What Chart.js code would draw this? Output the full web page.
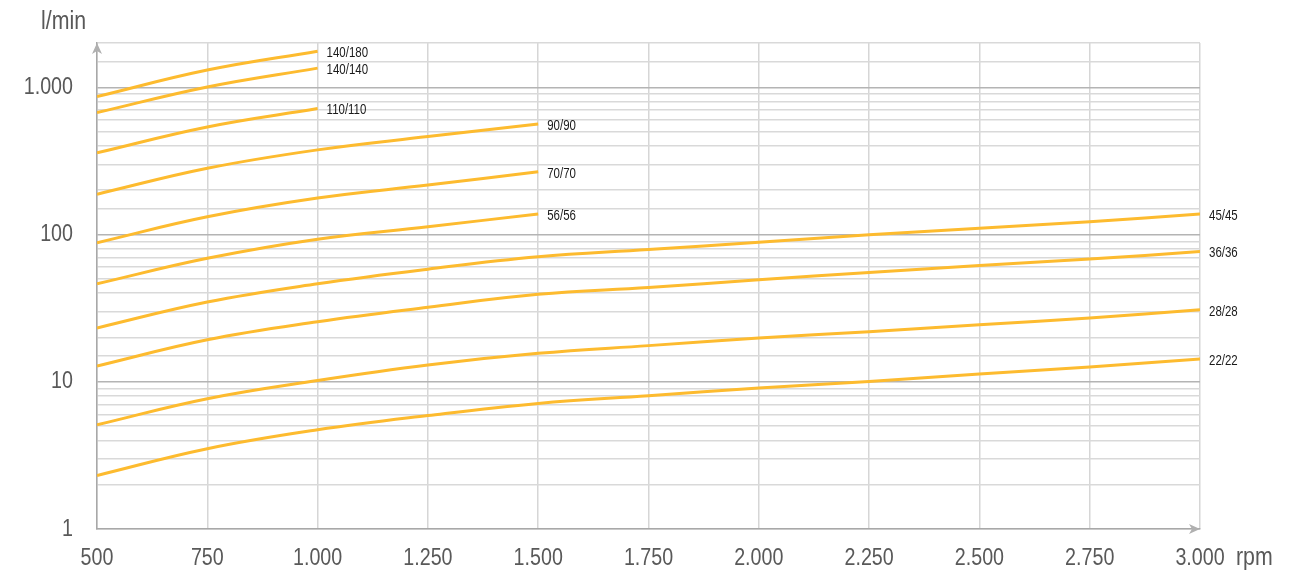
<!DOCTYPE html>
<html lang="de">
<head>
  <meta charset="UTF-8">
  <title>Fördermenge l/min über Drehzahl</title>
  <script src="https://cdn.jsdelivr.net/npm/chart.js"></script>
  <style>
    html, body {
      margin: 0;
      padding: 0;
      background: #fff;
    }
    .container {
      width: 1312px;
      height: 572px;
      position: relative;
    }
  </style>
</head>
<body>
  <div class="container">
    <canvas id="flowChart"></canvas>
  </div>

  <script>
    const rpm = [500, 750, 1000, 1250, 1500, 1750, 2000, 2250, 2500, 2750, 3000];

    // flow in l/min per pump size
    const s140_180 = [865, 1310, 1760];
    const s140_140 = [673, 1005, 1350];
    const s110_110 = [359, 538, 717];
    const s90_90 = [188, 282, 376, 463, 564];
    const s70_70 = [88, 132, 177, 217, 267];
    const s56_56 = [46.3, 69, 93, 113, 138];
    const s45_45 = [23.2, 34.8, 46.3, 58.2, 70.6, 79, 88.8, 99.5, 110.5, 122, 138];
    const s36_36 = [12.8, 19.3, 25.6, 32.1, 39.3, 43.7, 49.3, 55.2, 61.6, 68.1, 76.7];
    const s28_28 = [5.1, 7.67, 10.2, 13.0, 15.6, 17.6, 19.8, 21.9, 24.4, 27.1, 30.8];
    const s22_22 = [2.31, 3.51, 4.72, 5.9, 7.13, 8.04, 9.06, 10.05, 11.3, 12.6, 14.3];

    const seriesNames = ['140/180', '140/140', '110/110', '90/90', '70/70', '56/56', '45/45', '36/36', '28/28', '22/22'];
    const seriesValues = [s140_180, s140_140, s110_110, s90_90, s70_70, s56_56, s45_45, s36_36, s28_28, s22_22];

    const FONT = "'Liberation Sans', Arial, sans-serif";
    const lineColor = '#FDBB2F';
    const NARROW = 0.82; // squeeze regular font to look like a narrow face

    const fmt = v => String(v).replace(/\B(?=(\d{3})+(?!\d))/g, '.');
    const isDecade = v => Math.abs(Math.log10(v) - Math.round(Math.log10(v))) < 1e-9;

    function narrowText(ctx, text, x, y, align) {
      ctx.save();
      ctx.translate(x, y);
      ctx.scale(NARROW, 1);
      ctx.textAlign = align;
      ctx.fillText(text, 0, 0);
      ctx.restore();
    }

    // tick labels, labels at line ends, axis arrows and unit captions
    const extras = {
      id: 'extras',
      afterDatasetsDraw(chart) {
        const ctx = chart.ctx;
        const xs = chart.scales.x, ys = chart.scales.y;
        ctx.save();
        ctx.textBaseline = 'middle';

        ctx.fillStyle = '#595959';
        ctx.font = "24px " + FONT;
        xs.ticks.forEach(t => {
          narrowText(ctx, fmt(t.value), xs.getPixelForValue(t.value), 558, 'center');
        });
        ys.ticks.forEach(t => {
          if (isDecade(t.value)) {
            narrowText(ctx, fmt(t.value), 73, ys.getPixelForValue(t.value), 'right');
          }
        });

        ctx.font = "26px " + FONT;
        narrowText(ctx, 'l/min', 41, 22, 'left');
        narrowText(ctx, 'rpm', 1236, 558, 'left');

        ctx.font = "14px " + FONT;
        ctx.fillStyle = '#1a1a1a';
        chart.data.datasets.forEach((ds, i) => {
          const pts = chart.getDatasetMeta(i).data;
          const last = pts[pts.length - 1];
          narrowText(ctx, ds.label, last.x + 9, last.y + 2, 'left');
        });

        const a = chart.chartArea;
        ctx.fillStyle = '#b0b0b0';
        ctx.beginPath();
        ctx.moveTo(a.left, a.top);
        ctx.lineTo(a.left - 5, a.top + 11);
        ctx.lineTo(a.left, a.top + 8);
        ctx.lineTo(a.left + 5, a.top + 11);
        ctx.closePath();
        ctx.fill();
        ctx.beginPath();
        ctx.moveTo(a.right, a.bottom);
        ctx.lineTo(a.right - 11, a.bottom - 5);
        ctx.lineTo(a.right - 8, a.bottom);
        ctx.lineTo(a.right - 11, a.bottom + 5);
        ctx.closePath();
        ctx.fill();
        ctx.restore();
      }
    };

    const ctx = document.getElementById('flowChart').getContext('2d');

    new Chart(ctx, {
      type: 'line',
      data: {
        datasets: seriesNames.map((name, i) => ({
          label: name,
          data: seriesValues[i].map((v, j) => ({ x: rpm[j], y: v })),
          borderColor: lineColor,
          backgroundColor: lineColor,
          borderWidth: 3,
          pointRadius: 0,
          tension: 0.4,
          fill: false
        }))
      },
      options: {
        responsive: true,
        maintainAspectRatio: false,
        animation: false,
        layout: { padding: { left: 0, right: 112, top: 43, bottom: 0 } },
        plugins: {
          legend: { display: false },
          tooltip: { enabled: false }
        },
        scales: {
          x: {
            type: 'linear',
            min: 500,
            max: 3000,
            afterFit: s => { s.height = 43; },
            ticks: { stepSize: 250, display: false },
            grid: { color: '#d6d6d6', lineWidth: 1.5, drawTicks: false },
            border: { color: '#a8a8a8', width: 1.5 }
          },
          y: {
            type: 'logarithmic',
            min: 1,
            max: 2000,
            afterFit: s => { s.width = 97; },
            ticks: { autoSkip: false, display: false },
            grid: {
              drawTicks: false,
              lineWidth: 1.5,
              color: c => (c.tick && isDecade(c.tick.value) && c.tick.value > 1) ? '#b4b4b4' : '#d9d9d9'
            },
            border: { color: '#a8a8a8', width: 1.5 }
          }
        }
      },
      plugins: [extras]
    });
  </script>
</body>
</html>
